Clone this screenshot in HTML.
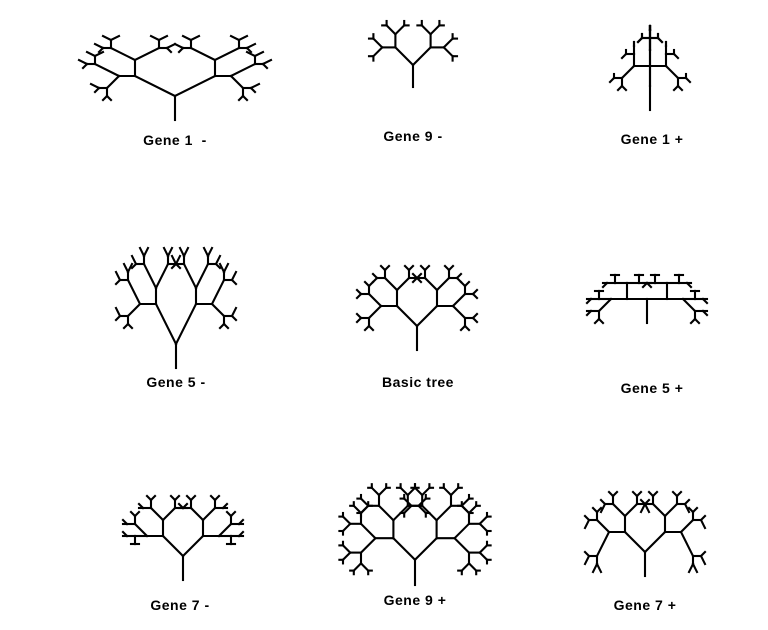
<!DOCTYPE html>
<html><head><meta charset="utf-8"><style>
html,body{margin:0;padding:0;background:#fff;}
#c{position:relative;width:768px;height:630px;overflow:hidden;}
.l{position:absolute;font:bold 14px "Liberation Sans",sans-serif;color:#000;transform:translateX(-50%);white-space:pre;letter-spacing:0.5px}
svg{position:absolute;left:0;top:0}
</style></head><body><div id="c">
<svg id="s" width="768" height="630" viewBox="0 0 768 630"></svg>
<div class="l" style="left:175px;top:132px">Gene 1  -</div>
<div class="l" style="left:413px;top:128px">Gene 9 -</div>
<div class="l" style="left:652px;top:131px">Gene 1 +</div>
<div class="l" style="left:176px;top:374px">Gene 5 -</div>
<div class="l" style="left:418px;top:374px">Basic tree</div>
<div class="l" style="left:652px;top:380px">Gene 5 +</div>
<div class="l" style="left:180px;top:597px">Gene 7 -</div>
<div class="l" style="left:415px;top:592px">Gene 9 +</div>
<div class="l" style="left:645px;top:597px">Gene 7 +</div>
</div>
<script>
var s=document.getElementById('s'),out='';
function tree(x,y,g,u){
 var dx=[-g[2],-g[1],-g[0],0,g[0],g[1],g[2],0];
 var dy=[g[6],g[5],g[4],g[3],g[4],g[5],g[6],g[7]];
 function r(x,y,len,d){
  d=((d%8)+8)%8;
  var nx=x+dx[d]*len*u, ny=y-dy[d]*len*u;
  out+='<line x1="'+x.toFixed(1)+'" y1="'+y.toFixed(1)+'" x2="'+nx.toFixed(1)+'" y2="'+ny.toFixed(1)+'"/>';
  if(len>1){r(nx,ny,len-1,d-1);r(nx,ny,len-1,d+1);}
 }
 r(x,y,g[8],3);
}
var B=[1,1,1,1,1,0,-1,-1,6];
function m(i,v){var g=B.slice();g[i]=v;return g;}
tree(175,120,m(0,2),4);
tree(413,87,m(8,5),4.4);
tree(650,110,m(0,0),4);
tree(176,368,m(4,2),4);
tree(417,350,B,4);
tree(647,323,m(4,0),4);
tree(183,580,m(6,0),4);
tree(415,585,m(8,7),3.6);
tree(645,576,m(6,-2),4);
s.innerHTML='<g stroke="#000" stroke-width="2.1" stroke-linecap="square" fill="none">'+out+'</g>';
</script>
</body></html>
